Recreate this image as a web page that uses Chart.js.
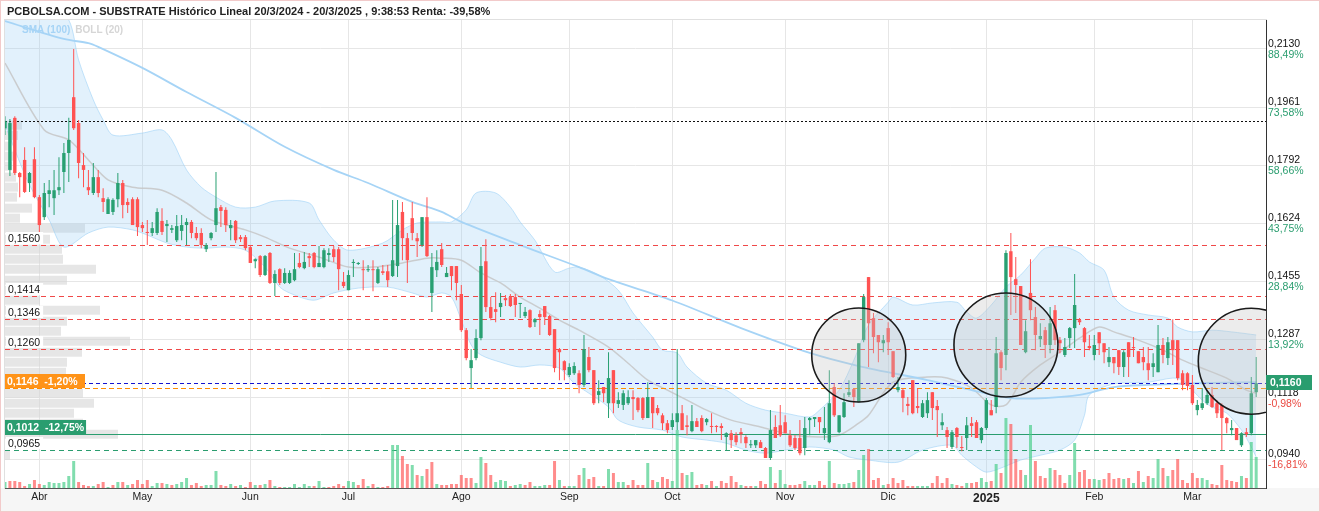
<!DOCTYPE html>
<html lang="es">
<head>
<meta charset="utf-8">
<title>SUBSTRATE Histórico Lineal</title>
<script src="https://cdn.jsdelivr.net/npm/chart.js@4.4.1/dist/chart.umd.min.js"></script>
<style>
  html, body { margin: 0; padding: 0; background: #fff; }
  #wrap { position: relative; width: 1320px; height: 512px; overflow: hidden; }
  #stockChart { position: absolute; left: 0; top: 0; }
  #title { position: absolute; left: 7px; top: 5px; font: bold 11px 'Liberation Sans', Arial, sans-serif; color: #222; white-space: nowrap; }
  #frame { position: absolute; left: 0; top: 0; right: 0; bottom: 0; border: 1px solid #f2caca; pointer-events: none; }
</style>
</head>
<body>
<div id="wrap">
  <canvas id="stockChart" width="1320" height="512"></canvas>
  <div id="title">PCBOLSA.COM - SUBSTRATE Histórico Lineal 20/3/2024 - 20/3/2025 , 9:38:53 Renta: -39,58%</div>
  <div id="frame"></div>
</div>
<script>
// Sesiones desde el 20/3/2024 (índice 0) hasta el 20/3/2025 (índice 255)
const monthLabels = ['Abr', 'May', 'Jun', 'Jul', 'Ago', 'Sep', 'Oct', 'Nov', 'Dic', '2025', 'Feb', 'Mar'];
const monthFirstDay = [7, 28, 50, 70, 93, 115, 136, 159, 180, 200, 222, 242];

// OHLC diario
const open = [
  0.1900, 0.1779, 0.1930, 0.1770, 0.1808, 0.1741, 0.1810, 0.1700, 0.1642, 0.1709,
  0.1697, 0.1720, 0.1773, 0.1828, 0.1990, 0.1915, 0.1793, 0.1729, 0.1712, 0.1758,
  0.1697, 0.1651, 0.1657, 0.1694, 0.1741, 0.1686, 0.1694, 0.1694, 0.1619, 0.1599,
  0.1596, 0.1596, 0.1631, 0.1616, 0.1605, 0.1575, 0.1602, 0.1619, 0.1628, 0.1596,
  0.1596, 0.1549, 0.1581, 0.1619, 0.1671, 0.1663, 0.1610, 0.1631, 0.1584, 0.1584,
  0.1555, 0.1514, 0.1529, 0.1474, 0.1538, 0.1451, 0.1491, 0.1451, 0.1451, 0.1459,
  0.1509, 0.1494, 0.1529, 0.1538, 0.1497, 0.1497, 0.1532, 0.1549, 0.1549, 0.1454,
  0.1430, 0.1509, 0.1506, 0.1491, 0.1488, 0.1491, 0.1451, 0.1485, 0.1485, 0.1471,
  0.1500, 0.1657, 0.1581, 0.1639, 0.1581, 0.1561, 0.1642, 0.1422, 0.1488, 0.1549,
  0.1468, 0.1500, 0.1500, 0.1419, 0.1314, 0.1204, 0.1233, 0.1291, 0.1514, 0.1381,
  0.1375, 0.1381, 0.1407, 0.1410, 0.1410, 0.1390, 0.1355, 0.1372, 0.1337, 0.1361,
  0.1384, 0.1355, 0.1317, 0.1259, 0.1224, 0.1184, 0.1189, 0.1189, 0.1155, 0.1236,
  0.1198, 0.1126, 0.1149, 0.1102, 0.1198, 0.1100, 0.1097, 0.1102, 0.1120, 0.1117,
  0.1117, 0.1059, 0.1120, 0.1088, 0.1067, 0.1044, 0.1033, 0.1047, 0.1073, 0.1038,
  0.1021, 0.1050, 0.1059, 0.1047, 0.1036, 0.1036, 0.1036, 0.1004, 0.1015, 0.1009,
  0.1018, 0.1004, 0.0980, 0.0980, 0.0989, 0.0972, 0.0943, 0.1033, 0.1038, 0.1047,
  0.1009, 0.1001, 0.1001, 0.0972, 0.1053, 0.1056, 0.1062, 0.1015, 0.0989, 0.1149,
  0.1018, 0.1062, 0.1126, 0.1143, 0.1105, 0.1285, 0.1468, 0.1349, 0.1300, 0.1276,
  0.1320, 0.1253, 0.1140, 0.1140, 0.1100, 0.1169, 0.1094, 0.1062, 0.1073, 0.1134,
  0.1094, 0.1038, 0.1024, 0.0975, 0.1030, 0.0975, 0.1001, 0.1044, 0.1047, 0.0995,
  0.1030, 0.1082, 0.1091, 0.1250, 0.1242, 0.1543, 0.1462, 0.1442, 0.1250, 0.1422,
  0.1352, 0.1288, 0.1314, 0.1271, 0.1372, 0.1285, 0.1242, 0.1291, 0.1320, 0.1343,
  0.1320, 0.1268, 0.1242, 0.1308, 0.1276, 0.1221, 0.1236, 0.1256, 0.1207, 0.1279,
  0.1265, 0.1253, 0.1236, 0.1218, 0.1207, 0.1192, 0.1271, 0.1233, 0.1285, 0.1285,
  0.1189, 0.1189, 0.1155, 0.1082, 0.1088, 0.1102, 0.1126, 0.1102, 0.1097, 0.1059,
  0.1024, 0.1030, 0.0980, 0.1018, 0.1015, 0.1134
];
const high = [
  0.1935, 0.1927, 0.1935, 0.1773, 0.1845, 0.1773, 0.1845, 0.1706, 0.1741, 0.1750,
  0.1779, 0.1816, 0.1857, 0.1930, 0.2130, 0.1924, 0.1828, 0.1779, 0.1799, 0.1779,
  0.1726, 0.1700, 0.1697, 0.1770, 0.1750, 0.1697, 0.1700, 0.1700, 0.1628, 0.1634,
  0.1628, 0.1668, 0.1668, 0.1634, 0.1619, 0.1648, 0.1648, 0.1639, 0.1634, 0.1613,
  0.1610, 0.1567, 0.1599, 0.1773, 0.1677, 0.1671, 0.1634, 0.1634, 0.1590, 0.1590,
  0.1561, 0.1523, 0.1532, 0.1532, 0.1541, 0.1488, 0.1494, 0.1494, 0.1488, 0.1538,
  0.1538, 0.1541, 0.1538, 0.1541, 0.1558, 0.1552, 0.1552, 0.1558, 0.1555, 0.1483,
  0.1488, 0.1520, 0.1512, 0.1517, 0.1503, 0.1517, 0.1497, 0.1503, 0.1503, 0.1692,
  0.1692, 0.1686, 0.1596, 0.1686, 0.1596, 0.1642, 0.1700, 0.1538, 0.1546, 0.1567,
  0.1497, 0.1500, 0.1500, 0.1445, 0.1320, 0.1259, 0.1317, 0.1555, 0.1578, 0.1410,
  0.1424, 0.1422, 0.1416, 0.1419, 0.1419, 0.1393, 0.1381, 0.1375, 0.1349, 0.1372,
  0.1384, 0.1358, 0.1317, 0.1262, 0.1227, 0.1218, 0.1221, 0.1198, 0.1300, 0.1265,
  0.1198, 0.1169, 0.1149, 0.1250, 0.1198, 0.1134, 0.1140, 0.1140, 0.1140, 0.1120,
  0.1120, 0.1163, 0.1120, 0.1097, 0.1073, 0.1053, 0.1073, 0.1259, 0.1097, 0.1067,
  0.1097, 0.1059, 0.1067, 0.1059, 0.1073, 0.1038, 0.1044, 0.1018, 0.1024, 0.1018,
  0.1030, 0.1009, 0.0995, 0.0995, 0.0995, 0.0975, 0.1082, 0.1067, 0.1097, 0.1067,
  0.1024, 0.1009, 0.1053, 0.1062, 0.1062, 0.1062, 0.1062, 0.1091, 0.1198, 0.1160,
  0.1067, 0.1131, 0.1169, 0.1146, 0.1276, 0.1419, 0.1468, 0.1364, 0.1300, 0.1300,
  0.1337, 0.1253, 0.1178, 0.1146, 0.1120, 0.1169, 0.1146, 0.1111, 0.1134, 0.1134,
  0.1111, 0.1073, 0.1033, 0.1024, 0.1033, 0.1007, 0.1062, 0.1062, 0.1053, 0.1033,
  0.1117, 0.1111, 0.1294, 0.1256, 0.1546, 0.1596, 0.1526, 0.1442, 0.1343, 0.1520,
  0.1381, 0.1334, 0.1323, 0.1381, 0.1387, 0.1294, 0.1291, 0.1323, 0.1477, 0.1349,
  0.1323, 0.1300, 0.1300, 0.1308, 0.1276, 0.1265, 0.1236, 0.1256, 0.1256, 0.1279,
  0.1294, 0.1253, 0.1265, 0.1265, 0.1247, 0.1329, 0.1291, 0.1294, 0.1346, 0.1285,
  0.1198, 0.1192, 0.1184, 0.1111, 0.1146, 0.1140, 0.1149, 0.1111, 0.1102, 0.1062,
  0.1053, 0.1030, 0.1018, 0.1030, 0.1178, 0.1236
];
const low = [
  0.1880, 0.1761, 0.1764, 0.1700, 0.1712, 0.1715, 0.1697, 0.1599, 0.1634, 0.1671,
  0.1648, 0.1706, 0.1712, 0.1744, 0.1895, 0.1755, 0.1729, 0.1706, 0.1706, 0.1700,
  0.1657, 0.1651, 0.1648, 0.1671, 0.1639, 0.1654, 0.1619, 0.1587, 0.1599, 0.1561,
  0.1587, 0.1590, 0.1590, 0.1570, 0.1596, 0.1570, 0.1575, 0.1561, 0.1581, 0.1575,
  0.1552, 0.1541, 0.1575, 0.1599, 0.1613, 0.1599, 0.1575, 0.1567, 0.1570, 0.1546,
  0.1509, 0.1494, 0.1468, 0.1471, 0.1448, 0.1413, 0.1445, 0.1448, 0.1448, 0.1456,
  0.1494, 0.1491, 0.1497, 0.1494, 0.1497, 0.1494, 0.1512, 0.1512, 0.1430, 0.1436,
  0.1430, 0.1468, 0.1503, 0.1430, 0.1483, 0.1427, 0.1448, 0.1474, 0.1439, 0.1468,
  0.1468, 0.1517, 0.1451, 0.1575, 0.1526, 0.1555, 0.1526, 0.1367, 0.1468, 0.1497,
  0.1468, 0.1430, 0.1401, 0.1309, 0.1227, 0.1146, 0.1227, 0.1285, 0.1367, 0.1343,
  0.1337, 0.1352, 0.1384, 0.1381, 0.1352, 0.1349, 0.1349, 0.1320, 0.1323, 0.1300,
  0.1329, 0.1297, 0.1192, 0.1169, 0.1169, 0.1178, 0.1184, 0.1131, 0.1149, 0.1192,
  0.1097, 0.1102, 0.1105, 0.1059, 0.1073, 0.1088, 0.1082, 0.1097, 0.1053, 0.1076,
  0.1053, 0.1059, 0.1030, 0.1067, 0.1024, 0.1015, 0.1024, 0.1024, 0.1024, 0.1009,
  0.1018, 0.1033, 0.1018, 0.1038, 0.1015, 0.1018, 0.0995, 0.0966, 0.0972, 0.0980,
  0.0986, 0.0972, 0.0972, 0.0972, 0.0972, 0.0943, 0.0937, 0.1001, 0.1004, 0.1015,
  0.0975, 0.0966, 0.0951, 0.0951, 0.1009, 0.1033, 0.1015, 0.0995, 0.0986, 0.1062,
  0.1015, 0.1059, 0.1120, 0.1091, 0.1105, 0.1279, 0.1207, 0.1247, 0.1221, 0.1250,
  0.1242, 0.1175, 0.1134, 0.1076, 0.1067, 0.1070, 0.1073, 0.1059, 0.1059, 0.1053,
  0.1004, 0.1024, 0.0972, 0.0969, 0.0972, 0.0963, 0.0966, 0.1004, 0.1001, 0.0986,
  0.1024, 0.1067, 0.1073, 0.1169, 0.1198, 0.1358, 0.1364, 0.1271, 0.1247, 0.1343,
  0.1256, 0.1265, 0.1233, 0.1247, 0.1271, 0.1247, 0.1236, 0.1262, 0.1262, 0.1329,
  0.1236, 0.1256, 0.1227, 0.1242, 0.1218, 0.1207, 0.1189, 0.1184, 0.1178, 0.1178,
  0.1236, 0.1218, 0.1198, 0.1169, 0.1178, 0.1192, 0.1218, 0.1213, 0.1213, 0.1169,
  0.1140, 0.1140, 0.1097, 0.1067, 0.1082, 0.1097, 0.1088, 0.1059, 0.0966, 0.1015,
  0.1009, 0.0995, 0.0975, 0.1004, 0.1009, 0.1120
];
const close = [
  0.1920, 0.1915, 0.1770, 0.1758, 0.1715, 0.1770, 0.1700, 0.1619, 0.1712, 0.1720,
  0.1720, 0.1729, 0.1828, 0.1866, 0.1900, 0.1799, 0.1779, 0.1720, 0.1758, 0.1712,
  0.1686, 0.1694, 0.1692, 0.1741, 0.1677, 0.1677, 0.1619, 0.1613, 0.1610, 0.1596,
  0.1610, 0.1657, 0.1599, 0.1622, 0.1610, 0.1616, 0.1619, 0.1628, 0.1596, 0.1581,
  0.1561, 0.1561, 0.1596, 0.1668, 0.1660, 0.1619, 0.1619, 0.1575, 0.1578, 0.1552,
  0.1509, 0.1520, 0.1474, 0.1529, 0.1451, 0.1477, 0.1451, 0.1480, 0.1480, 0.1491,
  0.1497, 0.1512, 0.1523, 0.1497, 0.1509, 0.1546, 0.1538, 0.1526, 0.1491, 0.1442,
  0.1474, 0.1512, 0.1509, 0.1488, 0.1491, 0.1488, 0.1491, 0.1480, 0.1459, 0.1517,
  0.1619, 0.1581, 0.1517, 0.1596, 0.1572, 0.1642, 0.1529, 0.1497, 0.1512, 0.1503,
  0.1480, 0.1471, 0.1451, 0.1314, 0.1233, 0.1227, 0.1291, 0.1500, 0.1381, 0.1349,
  0.1367, 0.1393, 0.1401, 0.1384, 0.1387, 0.1393, 0.1367, 0.1323, 0.1346, 0.1352,
  0.1352, 0.1300, 0.1204, 0.1250, 0.1198, 0.1207, 0.1210, 0.1155, 0.1259, 0.1198,
  0.1102, 0.1137, 0.1131, 0.1175, 0.1102, 0.1111, 0.1131, 0.1120, 0.1114, 0.1082,
  0.1059, 0.1120, 0.1073, 0.1073, 0.1044, 0.1024, 0.1053, 0.1073, 0.1024, 0.1033,
  0.1050, 0.1033, 0.1021, 0.1056, 0.1033, 0.1033, 0.1030, 0.1015, 0.0995, 0.0989,
  0.1012, 0.0986, 0.0983, 0.0995, 0.0972, 0.0943, 0.1024, 0.1001, 0.1009, 0.1015,
  0.0980, 0.0972, 0.0957, 0.1030, 0.1059, 0.1062, 0.1047, 0.1030, 0.1102, 0.1067,
  0.1067, 0.1105, 0.1134, 0.1120, 0.1276, 0.1410, 0.1334, 0.1294, 0.1279, 0.1285,
  0.1279, 0.1178, 0.1149, 0.1117, 0.1094, 0.1073, 0.1088, 0.1102, 0.1111, 0.1088,
  0.1082, 0.1047, 0.1004, 0.1018, 0.1004, 0.0972, 0.1038, 0.1036, 0.1001, 0.1030,
  0.1111, 0.1067, 0.1247, 0.1204, 0.1538, 0.1468, 0.1445, 0.1271, 0.1311, 0.1372,
  0.1300, 0.1297, 0.1271, 0.1334, 0.1285, 0.1276, 0.1265, 0.1320, 0.1387, 0.1337,
  0.1279, 0.1262, 0.1271, 0.1276, 0.1250, 0.1236, 0.1218, 0.1207, 0.1250, 0.1236,
  0.1262, 0.1218, 0.1221, 0.1198, 0.1218, 0.1271, 0.1242, 0.1279, 0.1256, 0.1175,
  0.1155, 0.1152, 0.1102, 0.1097, 0.1102, 0.1126, 0.1091, 0.1073, 0.1059, 0.1044,
  0.1030, 0.0995, 0.1015, 0.1012, 0.1131, 0.1160
];
const volume = [
  6, 7, 7, 6, 2, 4, 8, 4, 3, 6,
  5, 5, 6, 12, 27, 6, 3, 2, 2, 4,
  6, 1, 3, 6, 6, 3, 4, 8, 4, 8,
  2, 5, 5, 4, 3, 4, 6, 10, 3, 5,
  2, 3, 3, 17, 3, 2, 4, 2, 3, 1,
  6, 3, 3, 4, 8, 2, 1, 1, 1, 4,
  1, 4, 2, 2, 7, 1, 1, 2, 4, 2,
  7, 6, 3, 9, 2, 4, 1, 1, 2, 43,
  43, 32, 24, 23, 13, 12, 19, 26, 4, 3,
  3, 4, 4, 13, 10, 10, 5, 31, 25, 13,
  6, 8, 7, 2, 3, 4, 3, 6, 2, 2,
  3, 3, 27, 8, 2, 2, 2, 13, 20, 9,
  11, 2, 2, 19, 15, 6, 6, 3, 8, 3,
  3, 25, 8, 6, 11, 9, 7, 58, 15, 13,
  16, 3, 4, 3, 7, 2, 7, 5, 12, 6,
  3, 2, 2, 2, 7, 4, 21, 5, 18, 4,
  3, 3, 4, 7, 3, 3, 7, 3, 27, 5,
  4, 4, 5, 6, 18, 33, 39, 8, 10, 3,
  4, 10, 5, 8, 2, 2, 2, 2, 2, 5,
  12, 5, 10, 4, 3, 2, 5, 5, 6, 10,
  6, 7, 24, 15, 70, 64, 29, 18, 13, 63,
  27, 12, 10, 20, 18, 13, 5, 13, 45, 16,
  18, 9, 9, 8, 9, 15, 9, 10, 9, 10,
  5, 17, 6, 12, 10, 29, 20, 12, 18, 29,
  8, 5, 15, 10, 10, 8, 4, 3, 23, 8,
  7, 6, 12, 10, 46, 31
];

// Indicadores tal como se ven en el gráfico
const smaDays = [0, 12, 17, 19, 28, 37, 47, 57, 67, 74, 83, 89, 93, 105, 117, 123, 136, 150, 164, 174, 188, 197, 205, 212, 219, 226, 233, 243, 255];
const sma100 = [0.2211, 0.2159, 0.2147, 0.2136, 0.2075, 0.2005, 0.1930, 0.1846, 0.1779, 0.1741, 0.1686, 0.1657, 0.1628, 0.1561, 0.1497, 0.1462, 0.1400, 0.1320, 0.1248, 0.1210, 0.1169, 0.1140, 0.1117, 0.1117, 0.1126, 0.1149, 0.1155, 0.1160, 0.1163];

const bollUpDays = [0, 9, 13, 15, 18, 20, 22, 28, 32, 34, 37, 40, 43, 47, 51, 55, 62, 64, 67, 70, 77, 81, 84, 89, 91, 94, 96, 100, 103, 105, 108, 112, 115, 117, 121, 125, 128, 132, 134, 137, 139, 143, 147, 151, 155, 159, 164, 166, 170, 173, 176, 180, 181, 185, 189, 194, 196, 198, 201, 204, 207, 210, 212, 216, 219, 221, 224, 226, 229, 233, 237, 239, 242, 246, 250, 255];
const bollUp = [0.2290, 0.2260, 0.2214, 0.2098, 0.1982, 0.1924, 0.1880, 0.1886, 0.1895, 0.1866, 0.1779, 0.1729, 0.1700, 0.1671, 0.1671, 0.1689, 0.1683, 0.1634, 0.1575, 0.1546, 0.1567, 0.1605, 0.1625, 0.1628, 0.1628, 0.1663, 0.1712, 0.1712, 0.1671, 0.1628, 0.1575, 0.1483, 0.1494, 0.1497, 0.1474, 0.1430, 0.1364, 0.1294, 0.1256, 0.1248, 0.1207, 0.1160, 0.1140, 0.1102, 0.1082, 0.1073, 0.1062, 0.1082, 0.1140, 0.1227, 0.1329, 0.1395, 0.1410, 0.1387, 0.1393, 0.1395, 0.1367, 0.1349, 0.1387, 0.1439, 0.1474, 0.1523, 0.1552, 0.1555, 0.1538, 0.1512, 0.1488, 0.1410, 0.1372, 0.1358, 0.1349, 0.1323, 0.1309, 0.1314, 0.1309, 0.1300];

const bollLowDays = [0, 2, 5, 9, 12, 17, 21, 26, 29, 33, 37, 41, 45, 49, 53, 56, 59, 63, 67, 72, 78, 83, 86, 89, 91, 93, 95, 97, 101, 105, 109, 113, 116, 119, 123, 125, 129, 134, 138, 143, 147, 151, 155, 159, 164, 169, 172, 176, 182, 187, 193, 195, 198, 200, 203, 207, 211, 215, 218, 220, 221, 226, 233, 238, 240, 242, 244, 246, 249, 252, 254, 255];
const bollLow = [0.1909, 0.1837, 0.1735, 0.1634, 0.1555, 0.1596, 0.1613, 0.1605, 0.1590, 0.1567, 0.1555, 0.1552, 0.1555, 0.1546, 0.1497, 0.1439, 0.1416, 0.1401, 0.1422, 0.1436, 0.1439, 0.1422, 0.1410, 0.1422, 0.1410, 0.1343, 0.1271, 0.1242, 0.1221, 0.1207, 0.1213, 0.1204, 0.1160, 0.1131, 0.1091, 0.1053, 0.1033, 0.1024, 0.1004, 0.0995, 0.0986, 0.0966, 0.0957, 0.0966, 0.0975, 0.0966, 0.0946, 0.0937, 0.0931, 0.0966, 0.0980, 0.0951, 0.0917, 0.0902, 0.0914, 0.0937, 0.0951, 0.0966, 0.0995, 0.1067, 0.1126, 0.1158, 0.1163, 0.1175, 0.1169, 0.1140, 0.1111, 0.1091, 0.1073, 0.1024, 0.0975, 0.0946];

const bollMidDays = [0, 8, 13, 17, 21, 26, 32, 37, 42, 49, 53, 58, 64, 70, 75, 81, 86, 89, 93, 97, 101, 105, 109, 113, 117, 123, 127, 131, 135, 139, 143, 148, 154, 161, 166, 170, 174, 176, 181, 188, 192, 197, 201, 204, 207, 211, 215, 219, 223, 226, 231, 236, 240, 245, 249, 253, 255];
const bollMid = [0.2089, 0.1895, 0.1866, 0.1808, 0.1750, 0.1729, 0.1720, 0.1683, 0.1634, 0.1605, 0.1584, 0.1552, 0.1526, 0.1497, 0.1497, 0.1509, 0.1523, 0.1523, 0.1517, 0.1480, 0.1451, 0.1410, 0.1378, 0.1343, 0.1314, 0.1265, 0.1218, 0.1169, 0.1140, 0.1111, 0.1082, 0.1053, 0.1033, 0.1009, 0.1004, 0.1009, 0.1044, 0.1067, 0.1163, 0.1178, 0.1175, 0.1146, 0.1097, 0.1097, 0.1163, 0.1213, 0.1250, 0.1291, 0.1323, 0.1309, 0.1285, 0.1256, 0.1227, 0.1198, 0.1175, 0.1140, 0.1131];

// Perfil de volumen por precio (barras grises de la izquierda)
const profilePrice = [0.1909, 0.1879, 0.1848, 0.1819, 0.1790, 0.1758, 0.1729, 0.1700, 0.1668, 0.1639, 0.1610, 0.1578, 0.1549, 0.1520, 0.1491, 0.1459, 0.1430, 0.1401, 0.1372, 0.1340, 0.1311, 0.1282, 0.1250, 0.1221, 0.1192, 0.1160, 0.1131, 0.1102, 0.1073, 0.1044, 0.1012, 0.0983, 0.0951];
const profileVol = [17, 13, 5, 9, 7, 11, 13, 12, 27, 15, 80, 45, 57, 58, 91, 62, 33, 35, 95, 62, 56, 125, 77, 62, 61, 80, 78, 89, 69, 78, 113, 0, 5];

// Eje de precios y niveles
const priceTicks = [0.2130, 0.1961, 0.1792, 0.1624, 0.1455, 0.1287, 0.1118, 0.0940];
const priceTickPct = ['88,49%', '73,58%', '58,66%', '43,75%', '28,84%', '13,92%', '-0,98%', '-16,81%'];
const resistances = [0.1560, 0.1414, 0.1346, 0.1260];
const support = 0.0965;
const startPrice = 0.1920;
const avgPrice = 0.1146, avgPct = '-1,20%';
const stopPrice = 0.1012, stopPct = '-12,75%';

// Zonas marcadas con círculos (sesión, precio del centro)
const circleDays = [174, 204, 254];
const circlePrices = [0.1242, 0.1271, 0.1224];

const UI_FONT = "'Liberation Sans', Arial, sans-serif";
const UP = '#28a072', DOWN = '#ff5252';
const fmt = (v) => v.toFixed(4).replace('.', ',');

Chart.defaults.font.family = UI_FONT;

const days = close.map((_, i) => i);
const candleColors = days.map(i => close[i] >= open[i] ? UP : DOWN);
const volColors = days.map(i => {
  const up = i === 0 ? close[0] >= open[0] : close[i] >= close[i - 1];
  return up ? 'rgba(70,205,135,0.68)' : 'rgba(255,85,85,0.68)';
});

function hLine(ctx, area, y, color, dash, width) {
  const yy = Math.round(y) + 0.5;
  ctx.save();
  ctx.beginPath();
  ctx.setLineDash(dash);
  ctx.strokeStyle = color;
  ctx.lineWidth = width || 1;
  ctx.moveTo(area.left, yy);
  ctx.lineTo(area.right, yy);
  ctx.stroke();
  ctx.restore();
}

function plainTag(ctx, x, yLine, text) {
  ctx.font = '10.5px ' + UI_FONT;
  const w = ctx.measureText(text).width + 5;
  ctx.fillStyle = '#fff';
  ctx.fillRect(x, Math.round(yLine) - 13, w, 12);
  ctx.fillStyle = '#111';
  ctx.textBaseline = 'alphabetic';
  ctx.fillText(text, x + 2, Math.round(yLine) - 3);
}

function boxTag(ctx, x, yLine, text, bg) {
  ctx.font = 'bold 10.5px ' + UI_FONT;
  const w = Math.max(80, ctx.measureText(text).width + 4);
  ctx.fillStyle = bg;
  ctx.fillRect(x, Math.round(yLine) - 14, w, 14);
  ctx.fillStyle = '#fff';
  ctx.textBaseline = 'alphabetic';
  ctx.fillText(text, x + 2, Math.round(yLine) - 3);
}

const overlay = {
  id: 'overlay',
  beforeDraw(chart) {
    const { ctx, chartArea: a, width, height } = chart;
    ctx.save();
    ctx.fillStyle = '#fff';
    ctx.fillRect(0, 0, width, height);
    ctx.fillStyle = '#f6f6f6';
    ctx.fillRect(0, a.bottom, width, height - a.bottom);
    ctx.strokeStyle = '#e0e0e0';
    ctx.lineWidth = 1;
    ctx.strokeRect(a.left - 0.5, a.top - 0.5, a.right - a.left + 1, a.bottom - a.top + 1);
    ctx.restore();
  },
  // niveles horizontales: por encima de bandas y medias, por debajo de las velas
  afterDatasetDraw(chart, args) {
    if (chart.data.datasets[args.index].label !== 'SMA (100)') return;
    const { ctx, chartArea: a } = chart;
    const ys = chart.scales.y;
    hLine(ctx, a, ys.getPixelForValue(startPrice), '#111', [2, 2]);
    resistances.forEach(v => hLine(ctx, a, ys.getPixelForValue(v), '#f04848', [5, 4]));
    hLine(ctx, a, ys.getPixelForValue(close[close.length - 1]), '#1414d0', [4, 3]);
    hLine(ctx, a, ys.getPixelForValue(avgPrice), '#ff8c00', [5, 3]);
    hLine(ctx, a, ys.getPixelForValue(stopPrice), '#2a9d6f', []);
    hLine(ctx, a, ys.getPixelForValue(support), '#2a9d6f', [5, 4]);
  },
  afterDatasetsDraw(chart) {
    const { ctx, chartArea: a } = chart;
    const xs = chart.scales.x, ys = chart.scales.y;

    // círculos de anotación
    const radius = [47, 52, 53];
    ctx.save();
    ctx.beginPath();
    ctx.rect(a.left, a.top, a.right - a.left, a.bottom - a.top);
    ctx.clip();
    circleDays.forEach((d, i) => {
      ctx.beginPath();
      ctx.arc(xs.getPixelForValue(d), ys.getPixelForValue(circlePrices[i]), radius[i], 0, Math.PI * 2);
      ctx.fillStyle = 'rgba(195,195,195,0.32)';
      ctx.fill();
      ctx.lineWidth = 1.6;
      ctx.strokeStyle = '#1b1b1b';
      ctx.stroke();
    });
    ctx.restore();

    // etiquetas de niveles a la izquierda
    ctx.save();
    resistances.forEach(v => plainTag(ctx, a.left + 1, ys.getPixelForValue(v), fmt(v)));
    plainTag(ctx, a.left + 1, ys.getPixelForValue(support), fmt(support));
    boxTag(ctx, a.left, ys.getPixelForValue(avgPrice), fmt(avgPrice) + '  ' + avgPct, '#ff9318');
    boxTag(ctx, a.left, ys.getPixelForValue(stopPrice), fmt(stopPrice) + '  ' + stopPct, '#2a9d6f');

    // leyenda de indicadores
    ctx.font = 'bold 10px ' + UI_FONT;
    ctx.textBaseline = 'alphabetic';
    ctx.fillStyle = '#a6d4f6';
    ctx.fillText('SMA (100)', a.left + 17, 33);
    const w = ctx.measureText('SMA (100)').width;
    ctx.fillStyle = '#d6d6d6';
    ctx.fillText('BOLL (20)', a.left + 17 + w + 5, 33);
    ctx.restore();
  },
  afterDraw(chart) {
    const { ctx } = chart;
    const ys = chart.scales.y;
    ctx.save();
    ctx.font = '10.5px ' + UI_FONT;
    ctx.textAlign = 'left';
    ctx.textBaseline = 'middle';
    priceTicks.forEach((v, i) => {
      ctx.fillStyle = priceTickPct[i].startsWith('-') ? '#ea4a42' : '#2a9d6f';
      ctx.fillText(priceTickPct[i], ys.left + 2, ys.getPixelForValue(v) + 6);
    });
    // precio actual
    const last = close[close.length - 1];
    const yb = Math.round(ys.getPixelForValue(last));
    ctx.fillStyle = '#2a9d6f';
    ctx.fillRect(ys.left, yb - 8, 46, 15);
    ctx.fillStyle = '#fff';
    ctx.font = 'bold 10.5px ' + UI_FONT;
    ctx.fillText(fmt(last), ys.left + 4, yb);
    ctx.restore();
  }
};

const ctx = document.getElementById('stockChart').getContext('2d');
const stockChart = new Chart(ctx, {
  type: 'bar',
  data: {
    datasets: [
      {
        type: 'bar', label: 'Perfil', indexAxis: 'y', xAxisID: 'xVp', yAxisID: 'y',
        data: profilePrice.map((p, i) => ({ x: profileVol[i], y: p })),
        backgroundColor: 'rgba(214,214,214,0.6)', barThickness: 9, grouped: false,
        inflateAmount: 0, order: 7, clip: 0
      },
      {
        type: 'line', label: 'BOLL sup', xAxisID: 'x', yAxisID: 'y',
        data: bollUpDays.map((d, i) => ({ x: d, y: bollUp[i] })),
        borderColor: 'rgba(150,205,245,0.55)', borderWidth: 1,
        backgroundColor: 'rgba(160,210,245,0.30)', fill: '+1',
        pointRadius: 0, tension: 0.3, order: 6
      },
      {
        type: 'line', label: 'BOLL inf', xAxisID: 'x', yAxisID: 'y',
        data: bollLowDays.map((d, i) => ({ x: d, y: bollLow[i] })),
        borderColor: 'rgba(150,205,245,0.55)', borderWidth: 1, fill: false,
        pointRadius: 0, tension: 0.3, order: 6
      },
      {
        type: 'line', label: 'BOLL (20)', xAxisID: 'x', yAxisID: 'y',
        data: bollMidDays.map((d, i) => ({ x: d, y: bollMid[i] })),
        borderColor: 'rgba(198,198,198,0.85)', borderWidth: 1.5, fill: false,
        pointRadius: 0, tension: 0.3, order: 5
      },
      {
        type: 'line', label: 'SMA (100)', xAxisID: 'x', yAxisID: 'y',
        data: smaDays.map((d, i) => ({ x: d, y: sma100[i] })),
        borderColor: '#a6d4f6', borderWidth: 1.8, fill: false,
        pointRadius: 0, tension: 0.3, order: 4
      },
      {
        type: 'bar', label: 'Volumen', xAxisID: 'x', yAxisID: 'yVol',
        data: days.map(i => ({ x: i, y: volume[i] })),
        backgroundColor: volColors, barThickness: 3, grouped: false,
        inflateAmount: 0, order: 3, clip: 0
      },
      {
        type: 'bar', label: 'Mechas', xAxisID: 'x', yAxisID: 'y',
        data: days.map(i => ({ x: i, y: [low[i], high[i]] })),
        backgroundColor: candleColors, barThickness: 1, grouped: false,
        inflateAmount: 0, order: 2, clip: 0
      },
      {
        type: 'bar', label: 'Velas', xAxisID: 'x', yAxisID: 'y',
        data: days.map(i => ({ x: i, y: [open[i], close[i]] })),
        backgroundColor: candleColors, barThickness: 3.4, minBarLength: 1, grouped: false,
        inflateAmount: 0, order: 1, clip: 0
      }
    ]
  },
  options: {
    responsive: false,
    animation: false,
    events: [],
    layout: { padding: { left: 5, top: 20, right: 0, bottom: 0 } },
    plugins: { legend: { display: false }, tooltip: { enabled: false } },
    scales: {
      x: {
        type: 'linear', position: 'bottom', min: 0, max: 257, offset: false,
        afterBuildTicks: (s) => { s.ticks = monthFirstDay.map(v => ({ value: v })); },
        afterFit: (s) => { s.height = 24; },
        ticks: {
          autoSkip: false, maxRotation: 0, padding: 3, color: '#222',
          font: (c) => (c.tick && c.tick.value === 200)
            ? { family: UI_FONT, size: 12, weight: 'bold' }
            : { family: UI_FONT, size: 10.5 },
          callback: (v) => monthLabels[monthFirstDay.indexOf(v)]
        },
        grid: { color: '#e6e6e6', drawTicks: false, offset: false },
        border: { color: '#555' }
      },
      y: {
        type: 'linear', position: 'right', min: 0.0856, max: 0.2214, offset: false,
        afterBuildTicks: (s) => { s.ticks = priceTicks.map(v => ({ value: v })); },
        afterFit: (s) => { s.width = 54; },
        ticks: {
          autoSkip: false, padding: 2, labelOffset: -5, color: '#111',
          font: { family: UI_FONT, size: 10.5 },
          callback: (v) => fmt(v)
        },
        grid: { color: '#e6e6e6', drawTicks: false, offset: false },
        border: { color: '#333' }
      },
      yVol: { type: 'linear', axis: 'y', position: 'left', display: false, offset: false, min: 0, max: 468 },
      xVp: { type: 'linear', axis: 'x', position: 'top', display: false, offset: false, min: 0, max: 1261 }
    }
  },
  plugins: [overlay]
});
</script>
</body>
</html>
